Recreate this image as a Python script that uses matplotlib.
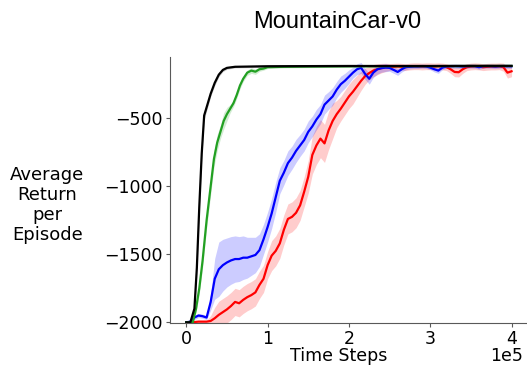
import numpy as np
import matplotlib
matplotlib.use("Agg")
import matplotlib.pyplot as plt

# time steps in units of 1e5
black_x = [0, 0.05, 0.1, 0.13, 0.16, 0.19, 0.22, 0.26, 0.3, 0.35, 0.4, 0.45, 0.5, 0.6,
           0.8, 1.0, 1.5, 2.0, 2.5, 3.0, 3.5, 4.0]
black_y = [-2000, -2000, -1900, -1600, -1150, -760, -480, -400, -320, -240, -180, -145, -130, -122,
           -120, -118, -117, -116, -116, -116, -115, -115]
black_err = [5, 5, 30, 40, 40, 40, 30, 25, 20, 20, 15, 12, 10, 8,
             8, 8, 8, 8, 8, 8, 8, 8]

green_x = [0, 0.08, 0.12, 0.16, 0.2, 0.25, 0.3, 0.34, 0.38, 0.42, 0.46, 0.5, 0.54, 0.58,
           0.62, 0.66, 0.7, 0.75, 0.8, 0.85, 0.9, 0.95, 1.0, 1.2, 1.5, 2.0, 3.0, 4.0]
green_y = [-2000, -2000, -1900, -1750, -1550, -1250, -1000, -800, -680, -600, -520, -470, -430, -390,
           -330, -260, -210, -165, -150, -158, -140, -135, -125, -122, -120, -118, -117, -116]
green_err = [5, 5, 30, 40, 50, 60, 60, 60, 60, 50, 60, 50, 30, 25,
             25, 25, 20, 20, 20, 20, 15, 12, 10, 8, 8, 8, 8, 8]

steps = [round(0.05 * i, 2) for i in range(81)]

blue_y = [-2000, -1995, -1965, -1950, -1955, -1965, -1850, -1680, -1610, -1580,
          -1560, -1545, -1535, -1535, -1525, -1525, -1515, -1505, -1470, -1390,
          -1300, -1200, -1080, -960, -900, -830, -790, -740, -700, -660,
          -600, -560, -510, -470, -400, -370, -340, -290, -250, -225,
          -195, -165, -140, -130, -175, -210, -165, -140, -132, -128,
          -130, -145, -160, -140, -124, -122, -120, -120, -118, -120,
          -128, -140, -150, -128, -120, -118, -117, -118, -120, -118,
          -117, -118, -125, -118, -117, -118, -120, -118, -117, -118, -118]
blue_err = [10, 10, 15, 15, 15, 15, 60, 150, 200, 190,
            180, 175, 170, 165, 160, 150, 140, 130, 120, 110,
            110, 110, 110, 95, 90, 90, 85, 85, 80, 80,
            80, 75, 75, 70, 70, 65, 65, 60, 60, 55,
            50, 40, 40, 40, 40, 40, 35, 35, 30, 30,
            25, 25, 25, 20, 20, 15, 15, 15, 15, 15,
            15, 20, 20, 15, 15, 15, 15, 15, 15, 15,
            15, 15, 15, 15, 15, 15, 15, 15, 15, 15, 15]

red_y = [-2000, -2000, -1998, -1995, -1995, -1995, -1990, -1970, -1945, -1925,
         -1905, -1880, -1850, -1860, -1835, -1815, -1800, -1780, -1725, -1680,
         -1580, -1510, -1475, -1420, -1320, -1240, -1225, -1195, -1140, -1040,
         -930, -770, -700, -650, -685, -590, -520, -470, -430, -385,
         -340, -305, -265, -225, -190, -168, -150, -140, -132, -126,
         -123, -122, -120, -122, -125, -120, -118, -118, -120, -118,
         -118, -120, -118, -120, -125, -140, -160, -162, -140, -125,
         -120, -118, -120, -125, -122, -120, -120, -118, -125, -165, -155]
red_err = [10, 10, 10, 10, 10, 10, 40, 80, 100, 100,
           100, 100, 100, 100, 100, 100, 100, 100, 100, 100,
           100, 110, 110, 110, 110, 110, 110, 110, 110, 110,
           120, 140, 140, 140, 140, 140, 130, 100, 90, 90,
           90, 90, 80, 70, 60, 50, 45, 40, 35, 30,
           25, 25, 25, 25, 25, 25, 25, 25, 25, 25,
           25, 25, 25, 25, 25, 30, 35, 35, 30, 25,
           25, 25, 25, 25, 25, 25, 25, 25, 30, 40, 40]

fig = plt.figure(figsize=(5.27, 3.67), dpi=100)
ax = fig.add_axes([0.3226, 0.1199, 0.6774, 0.7248])

curves = [(steps, red_y, red_err, "#ff0000"),
          (steps, blue_y, blue_err, "#0000ff"),
          (green_x, green_y, green_err, "#22a022"),
          (black_x, black_y, black_err, "black")]
for xs, ys, err, col in curves:
    ys = np.array(ys)
    err = np.array(err)
    ax.fill_between(xs, ys - err, ys + err, color=col, alpha=0.2, linewidth=0)
    ax.plot(xs, ys, color=col, lw=1.6)

ax.set_xlim(-0.2, 4.19)
ax.set_ylim(-2005, -50)
ax.set_xticks([0, 1, 2, 3, 4])
ax.set_yticks([-500, -1000, -1500, -2000])
ax.spines["top"].set_visible(False)
ax.spines["right"].set_visible(False)
for s in ["left", "bottom"]:
    ax.spines[s].set_color("0.35")
ax.tick_params(labelsize=12.5, color="0.35", length=3, pad=2)

fig.text(0.639, 0.939, "MountainCar-v0", family="Liberation Sans", fontsize=17,
         ha="center", va="center")
fig.text(0.09, 0.441, "Average\nReturn\nper\nEpisode", fontsize=13,
         ha="center", va="center", linespacing=1.15)
fig.text(0.643, 0.016, "Time Steps", fontsize=12.5, ha="center", va="baseline")
fig.text(0.992, 0.016, "1e5", fontsize=12.5, ha="right", va="baseline")

plt.savefig("out.png", dpi=100)
